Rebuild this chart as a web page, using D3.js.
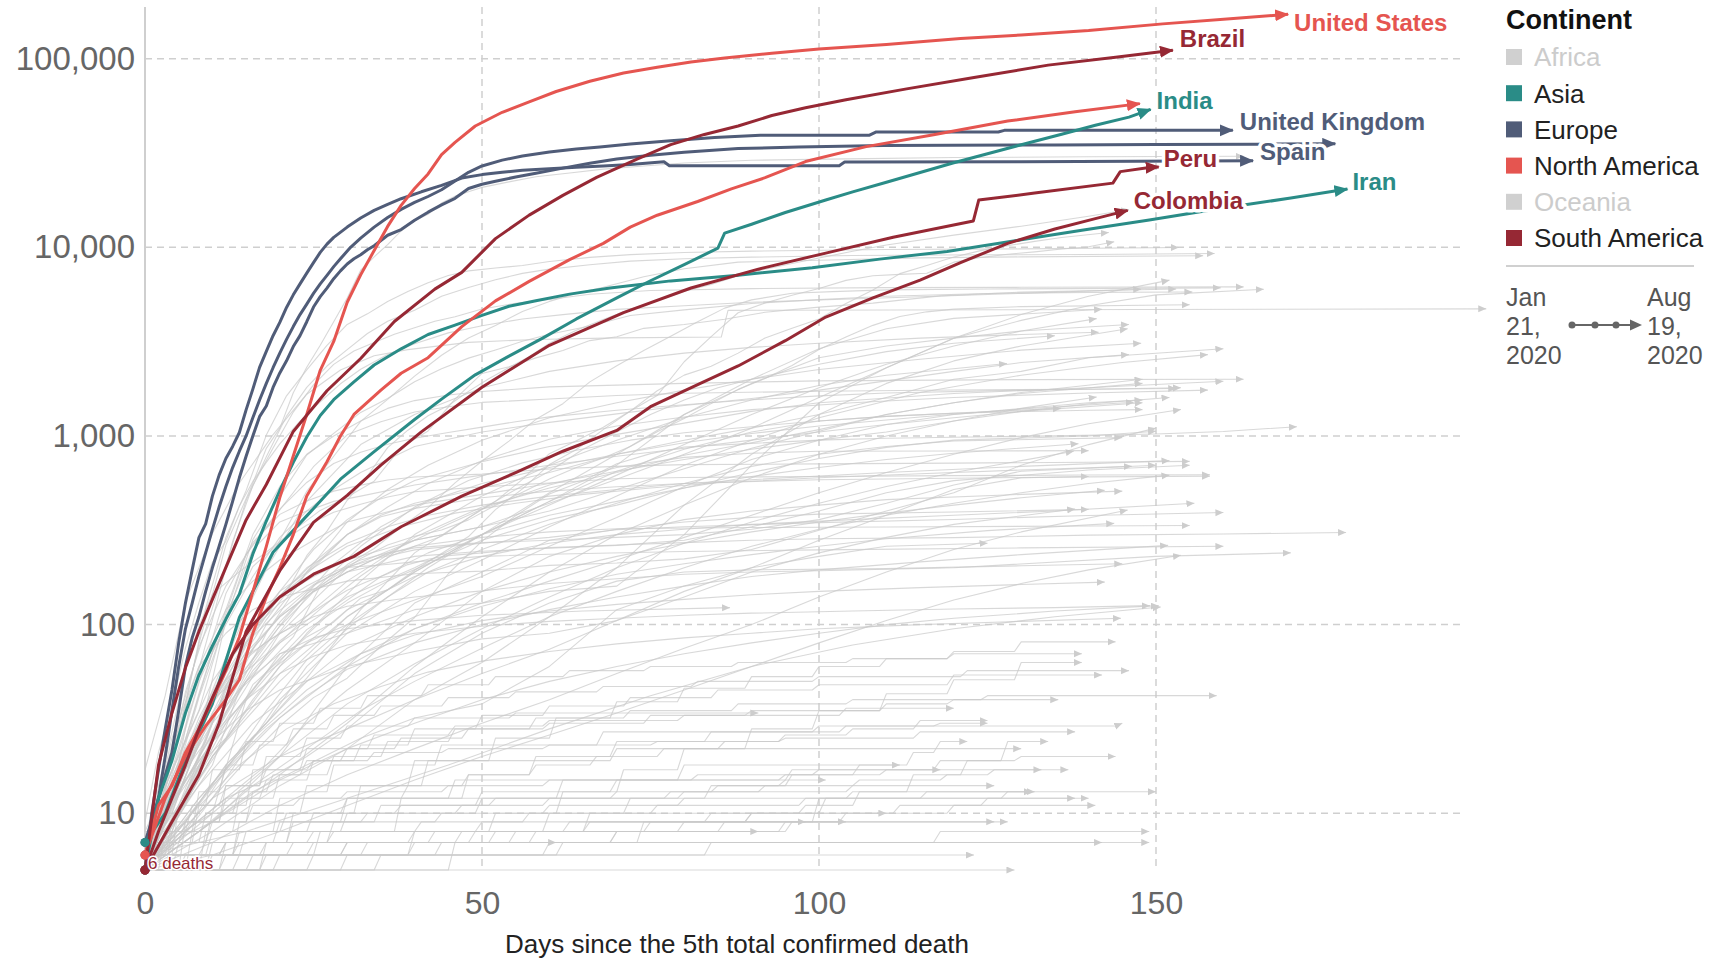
<!DOCTYPE html>
<html>
<head>
<meta charset="utf-8">
<script src="https://cdn.jsdelivr.net/npm/d3@7"></script>
<style>
  html, body { margin: 0; padding: 0; background: #fff; }
  svg { display: block; font-family: "Liberation Sans", Arial, sans-serif; }
</style>
</head>
<body>
<svg id="chart" width="1711" height="960"></svg>
<script>
// ---- data: [day since 5th death, total deaths] ----
var continents = ["Africa", "Asia", "Europe", "North America", "Oceania", "South America"];
var yTicks = [10, 100, 1000, 10000, 100000];
var xTicks = [0, 50, 100, 150];

var unitedStates = [[0,6],[2,11],[4,14],[6,21],[8,28],[10,40],[12,57],[14,86],[16,149],[18,260],[20,471],[22,783],[24,1299],[26,2229],[28,3170],[30,5116],[32,7159],[34,9618],[36,12911],[38,16686],[40,20506],[42,24500],[44,31000],[46,36000],[49,44000],[53,52000],[57,59000],[61,67000],[66,76000],[71,84000],[76,90000],[81,96000],[86,101000],[93,107000],[100,112500],[110,119000],[121,128000],[130,133500],[140,141000],[151,153000],[161,163000],[169.6,172000]];
var mexico = [[0,6],[3,12],[6,20],[9,29],[12,40],[14,51],[16,90],[18,140],[20,200],[22,300],[24,480],[27,730],[29,1000],[31,1300],[35,1750],[38,2150],[42,2600],[47,3800],[52,5200],[57,6600],[63,8600],[68,10500],[72,12800],[76,14800],[82,17500],[87,20400],[92,23400],[98,28500],[107,34200],[117,39500],[128,46700],[138,52300],[147.6,57800]];
var brazil = [[0,5],[2,18],[4,34],[6,59],[8,92],[10,136],[12,201],[15,359],[18,553],[22,1057],[27,1736],[32,2575],[37,4045],[43,6006],[47,7367],[52,11123],[57,14817],[62,18859],[67,23473],[73,29314],[78,35026],[83,39680],[88,43959],[93,49976],[98,54971],[104,60632],[113,69184],[123,79488],[134,92475],[144,101752],[152.5,111000]];
var peru = [[0,5],[4,9],[8,16],[11,30],[15,92],[20,193],[25,348],[30,484],[35,700],[41,1051],[50,1814],[60,3024],[71,4506],[81,6088],[91,7660],[101,9317],[111,11314],[122.9,13800],[123.7,17800],[132,19400],[143.6,21900],[144.7,25200],[149,26500],[150.4,26700]];
var colombia = [[0,5],[2,8],[4,12],[6,18],[8,28],[10,41],[13,70],[16,100],[20,140],[25,185],[31,230],[38,330],[47,480],[55,640],[62,830],[70,1070],[75,1430],[82,1870],[88,2350],[95,3200],[101,4270],[108,5400],[115,6700],[121,8300],[128,10500],[135,12500],[141,14200],[145.8,15700]];
var spain = [[0,5],[1,10],[2,17],[3,28],[4,45],[5,80],[6,130],[7,195],[8,289],[9,342],[10,480],[11,620],[12,760],[13,880],[14,1043],[15,1375],[16,1772],[17,2311],[18,2808],[19,3400],[20,4000],[21,4800],[22,5600],[23,6400],[24,7300],[25,8300],[26,9400],[27,10400],[28,11300],[30,12800],[32,14300],[34,15700],[36,16900],[38,18100],[41,19700],[44,21300],[47,23300],[50,24300],[53,25000],[56,25600],[60,26100],[64,26600],[68,27000],[72,27500],[77,28400],[77.8,27100],[103,27100],[103.8,28315],[130,28450],[164.4,28800]];
var italy = [[0,7],[2,12],[4,21],[5,35],[6,60],[7,85],[8,110],[9,150],[10,200],[11,260],[12,340],[13,450],[14,600],[15,780],[16,1000],[17,1266],[18,1441],[19,1809],[20,2158],[21,2503],[22,2978],[23,3405],[24,4032],[25,4825],[26,5476],[27,6077],[28,6820],[29,7503],[30,8165],[31,8700],[32,9134],[33,9700],[34,10200],[36,11591],[38,12428],[40,13915],[42,15362],[44,16800],[46,18200],[48,20500],[50,21600],[52,22400],[55,23600],[58,24700],[62,26300],[66,27900],[70,29400],[75,30800],[80,31900],[88,33400],[97,34000],[109.5,34700],[135,34900],[150,35100],[165,35250],[176.6,35400]];
var unitedKingdom = [[0,6],[1,8],[2,12],[3,20],[4,35],[5,60],[6,95],[7,130],[8,180],[9,240],[10,320],[11,420],[12,540],[13,680],[14,830],[15,1000],[16,1250],[17,1550],[18,1900],[19,2300],[20,2750],[21,3250],[22,3800],[23,4400],[24,5000],[25,5700],[26,6400],[27,7100],[28,7900],[29,8700],[30.5,10000],[32,11200],[34,12800],[36,14400],[38,15900],[40,17300],[42,18600],[44,20200],[46,22500],[48,25000],[50,27000],[53,29000],[56,30500],[60,32000],[64,33200],[67.5,34000],[72,35300],[78,36700],[84.5,38200],[91.3,39300],[107.5,39300],[108.5,40900],[126.6,40900],[127.5,41700],[161.4,41700]];
var india = [[0,7],[3,10],[6,19],[10,38],[14,109],[19,242],[24,377],[29,590],[34,826],[40,1223],[44,1568],[49,2109],[54,2649],[59,3303],[64,4172],[70,5394],[75,6649],[80,8102],[85,9900],[86,11903],[90,13254],[95,15301],[101,17834],[105,19693],[110,22123],[115,24915],[120,28084],[125,31358],[131,35747],[136,39795],[141,44386],[146,49036],[149.2,53866]];
var iran = [[0,5],[2,12],[4,19],[6,34],[8,54],[10,77],[12,107],[14,145],[16,237],[18,354],[20,514],[22,724],[24,988],[26,1284],[28,1556],[31,1934],[34,2378],[38,2898],[42,3452],[46,3872],[50,4357],[54,4869],[58,5209],[63,5650],[69,6091],[78,6640],[88,7119],[99,7797],[109,8659],[119,9507],[130,10958],[139,12305],[149,13979],[160,16147],[170,18264],[178.4,20376]];

// other countries (grey), flat lists: day, deaths, day, deaths, ...
var otherCountries = [
  [0,7, 4,19, 8,79, 12,264, 16,562, 18,860, 20,1100, 22,1696, 24,2314, 26,3024, 28,4032, 30,5387, 32,7560, 34,8911, 36,10328, 38,12210, 40,13832, 42,14986, 44,17167, 46,18681, 48,19718, 50,20796, 54,22245, 58,23660, 63,24760, 68,25987, 74,26991, 80,28022, 90,28940, 104,29436, 120,29920, 140,30200, 163,30410],
  [0,6, 3,13, 6,44, 9,94, 12,206, 15,455, 18,775, 21,1275, 24,1810, 27,2349, 30,2871, 33,3495, 36,4052, 40,4642, 44,5500, 48,6126, 52,6736, 56,7275, 60,7662, 66,8090, 72,8450, 80,8695, 90,8870, 105,9050, 125,9130, 140,9170, 158.7,9270],
  [0,5, 3,14, 6,37, 9,122, 12,289, 15,513, 18,1011, 21,1632, 24,2240, 27,3019, 30,3903, 33,4440, 36,5163, 39,5828, 42,6490, 45,7094, 48,7501, 52,7765, 56,8016, 60,8415, 66,8843, 72,9150, 80,9388, 90,9548, 110,9732, 130,9811, 153.4,9985],
  [0,5, 4,12, 8,24, 12,65, 16,139, 20,280, 24,509, 28,781, 32,1195, 36,1563, 40,2075, 44,2680, 48,3306, 52,3856, 56,4566, 60,5169, 64,5702, 68,6150, 74,6979, 80,7703, 88,8346, 100,8544, 115,8798, 130,8901, 157,9030],
  [0,5, 4,12, 7,43, 10,106, 13,276, 16,546, 19,864, 22,1339, 25,1867, 28,2396, 31,2823, 34,3134, 37,3459, 40,3751, 43,4054, 46,4289, 50,4711, 55,5056, 60,5288, 66,5643, 75,5903, 90,6042, 110,6113, 130,6138, 163,6170],
  [0,6, 4,10, 8,25, 12,105, 16,282, 20,477, 24,793, 28,1033, 32,1333, 36,1580, 40,1937, 44,2274, 48,2586, 52,2854, 56,3175, 60,3460, 66,3831, 72,4350, 80,4659, 90,5041, 100,5280, 110,5500, 125,5697, 140,5770, 155.4,5800],
  [0,9, 2,21, 4,37, 6,75, 8,131, 10,214, 12,277, 14,425, 16,574, 18,725, 20,908, 23,1198, 26,1518, 29,1890, 32,2259, 36,2706, 40,3081, 45,3520, 50,3841, 56,4171, 62,4397, 70,4692, 80,4905, 90,5115, 100,5260, 115,5474, 130,5700, 147.8,5996],
  [0,5, 6,11, 10,18, 14,45, 18,61, 22,86, 26,159, 30,208, 34,253, 38,329, 42,417, 46,564, 50,737, 54,939, 58,1225, 62,1483, 66,1935, 70,2356, 74,2839, 78,3382, 82,4035, 86,4762, 90,5266, 96,5709, 102,5822, 110,5951, 125,6014, 159.6,6097],
  [0,5, 2,14, 4,27, 6,58, 8,98, 10,145, 14,191, 18,242, 22,315, 26,403, 30,474, 34,576, 38,871, 42,1063, 46,1569, 50,2145, 54,2327, 58,2594, 62,2839, 66,3203, 70,3358, 74,3720, 80,3896, 86,4156, 92,4527, 100,4821, 108,5063, 118,5532, 130,5787, 153,6010],
  [0,5, 3,9, 6,17, 9,24, 12,47, 15,72, 18,106, 21,148, 24,232, 27,313, 30,456, 33,615, 36,867, 39,1073, 42,1280, 45,1451, 48,1723, 51,2009, 54,2305, 57,2631, 60,3099, 64,3633, 68,4142, 72,4693, 76,5215, 80,5859, 84,6358, 88,7081, 92,7660, 96,8206, 100,8777, 105,9536, 110,10296, 120,11614, 130,12942, 140,14606, 146,15872],
  [0,5, 4,11, 8,18, 12,25, 16,48, 20,65, 24,86, 28,103, 32,138, 36,153, 40,194, 44,238, 48,293, 52,407, 56,524, 60,705, 64,848, 68,1080, 72,1354, 76,1737, 80,2102, 84,2340, 88,2749, 92,3310, 96,3720, 100,4172, 104,5033, 108,5940, 112,7257, 116,8005, 120,8884, 124,9604, 128,10210, 132,10751, 136,11270, 143,11982],
  [0,5, 4,8, 8,18, 12,34, 16,57, 20,82, 24,105, 28,139, 32,181, 36,227, 40,260, 44,294, 48,368, 52,450, 56,589, 60,806, 64,944, 68,1113, 72,1356, 76,1637, 80,2475, 84,3362, 88,4502, 92,5068, 96,5575, 100,6051, 104,6682, 108,7069, 112,7186, 116,7290, 120,8347, 124,8838, 128,9187, 132,9457, 136,9792, 140,10077, 143.8,10700],
  [0,17, 3,42, 6,132, 10,304, 14,563, 19,1016, 24,1665, 29,2236, 34,2663, 39,2870, 48,3136, 58,3249, 70,3312, 85.5,3345, 86.5,4632, 199,4720],
  [0,6, 4,10, 8,24, 12,41, 16,66, 20,103, 24,146, 28,178, 32,224, 36,264, 40,294, 44,317, 48,359, 52,429, 56,503, 60,592, 64,680, 68,764, 72,879, 76,1052, 80,1237, 84,1484, 88,1766, 92,2017, 96,2365, 100,2872, 104,3343, 108,3858, 112,4302, 116,4551, 120,4705, 130,4850, 155,4960],
  [0,5, 10,24, 20,90, 30,200, 40,280, 50,330, 60,440, 70,590, 80,800, 90,1100, 100,1600, 110,2300, 120,3300, 130,4400, 140,5500, 152,6700],
  [0,5, 10,20, 20,50, 30,110, 40,190, 50,300, 60,500, 70,800, 80,1300, 90,2000, 100,2900, 110,3700, 120,4200, 142,4700],
  [0,5, 10,40, 20,80, 30,140, 40,200, 50,300, 60,450, 70,700, 80,1300, 90,1900, 100,2600, 110,3000, 120,3300, 130,3600, 146,3900],
  [0,6, 10,10, 15,40, 20,70, 30,90, 40,120, 50,130, 60,150, 70,160, 80,300, 90,700, 100,1500, 110,2300, 120,3300, 130,4100, 140,4900, 150,5600, 166,6000],
  [0,8, 5,20, 10,50, 15,90, 20,150, 25,200, 30,300, 35,380, 40,440, 50,530, 60,640, 70,800, 80,950, 90,1100, 100,1300, 110,1600, 120,2000, 130,2200, 140,2600, 160,2900],
  [0,5, 10,20, 20,55, 30,110, 40,190, 50,300, 60,430, 70,620, 80,900, 90,1300, 100,1800, 110,2400, 120,3000, 130,3600, 141.2,4190],
  [0,5, 10,12, 20,20, 30,28, 40,40, 50,63, 60,110, 70,200, 80,430, 90,800, 100,1300, 110,1900, 120,2500, 130,3000, 145.8,3700],
  [0,6, 8,30, 16,150, 24,450, 32,900, 40,1300, 50,1800, 60,2200, 70,2500, 80,2750, 90,2950, 100,3100, 115,3300, 130,3450, 141.5,3550],
  [0,5, 6,13, 12,34, 18,90, 24,190, 30,350, 36,520, 42,700, 50,950, 60,1250, 70,1500, 80,1750, 90,2000, 100,2250, 115,2550, 130,2850, 147.8,3100],
  [0,5, 10,12, 20,40, 30,90, 40,150, 50,220, 60,330, 70,480, 80,700, 90,950, 100,1250, 115,1700, 130,2100, 145,2450, 157.7,2700],
  [0,5, 8,15, 16,40, 24,90, 32,170, 40,300, 50,480, 60,700, 70,950, 80,1250, 90,1550, 100,1850, 110,2100, 127.9,2420],
  [0,6, 5,19, 10,71, 15,235, 20,406, 25,687, 30,1014, 35,1190, 40,1339, 45,1429, 50,1506, 60,1571, 70,1639, 80,1683, 100,1727, 120,1753, 140,1770, 153.7,1800],
  [0,5, 6,11, 12,40, 18,100, 24,190, 30,300, 36,420, 42,560, 50,740, 60,960, 70,1130, 80,1260, 90,1380, 105,1500, 120,1600, 140,1690, 157.7,1750],
  [0,5, 10,9, 20,16, 30,30, 40,60, 50,110, 60,190, 70,300, 80,430, 90,600, 100,800, 110,1000, 120,1200, 130,1400, 141.2,1610],
  [0,6, 8,20, 16,60, 24,140, 32,260, 40,420, 48,580, 56,720, 64,840, 72,950, 80,1040, 90,1120, 100,1200, 110,1270, 122,1330, 135.9,1400],
  [0,5, 10,14, 20,32, 30,60, 40,95, 50,130, 60,170, 70,220, 80,290, 90,380, 100,500, 110,640, 120,800, 130,980, 140,1160, 153.7,1380],
  [0,7, 7,17, 14,50, 21,110, 28,210, 35,330, 42,450, 50,560, 60,680, 70,800, 80,920, 90,1030, 100,1130, 115,1260, 130,1390, 146.7,1510],
  [0,6, 5,7, 10,12, 15,19, 20,29, 25,41, 30,52, 35,77, 40,109, 45,186, 50,277, 55,378, 60,492, 65,577, 70,713, 75,806, 80,874, 90,913, 100,950, 110,972, 120,984, 135,1001, 150,1025, 160,1056, 170.9,1120],
  [0,5, 7,14, 14,36, 21,70, 28,120, 35,180, 42,240, 50,300, 60,380, 70,450, 80,530, 90,610, 100,680, 110,750, 120,810, 138.5,910],
  [0,5, 10,10, 20,20, 30,38, 40,62, 50,95, 60,140, 70,200, 80,270, 90,350, 100,440, 110,540, 120,640, 130,740, 137.8,830],
  [0,6, 6,18, 12,55, 18,120, 24,200, 30,270, 36,330, 42,380, 50,430, 60,480, 70,520, 80,560, 95,600, 110,640, 130,690, 152,740],
  [0,5, 8,8, 16,14, 24,22, 32,35, 40,50, 50,75, 60,110, 70,150, 80,200, 90,260, 100,320, 110,380, 120,440, 130,500, 140,560, 152,620],
  [0,5, 5,14, 10,38, 15,80, 20,140, 25,200, 30,260, 38,330, 46,390, 55,440, 65,490, 75,530, 85,565, 100,600, 115,630, 130,660, 146.4,690],
  [0,6, 6,9, 12,18, 18,30, 24,50, 30,75, 40,110, 50,150, 60,190, 70,230, 80,270, 90,310, 100,350, 110,390, 120,430, 130,470, 142.4,515],
  [0,5, 10,20, 20,60, 30,120, 40,180, 50,230, 60,270, 70,300, 80,320, 90,340, 105,360, 120,380, 135,400, 155.7,440],
  [0,5, 10,7, 20,11, 30,16, 40,22, 50,30, 60,40, 70,55, 80,75, 90,100, 100,140, 110,190, 120,250, 130,310, 145.8,405],
  [0,5, 8,12, 16,25, 24,45, 32,70, 40,95, 50,125, 60,155, 70,185, 80,210, 90,235, 100,260, 110,285, 125,315, 143.8,344],
  [0,7, 3,13, 6,22, 9,35, 12,51, 15,66, 18,81, 21,94, 24,111, 27,131, 30,152, 33,169, 36,186, 39,208, 42,222, 45,232, 50,240, 55,250, 60,256, 70,264, 80,272, 90,280, 100,285, 120,289, 140,298, 160,302, 178.2,308],
  [0,5, 6,9, 12,17, 18,28, 24,42, 30,58, 40,80, 50,100, 60,120, 70,140, 80,160, 90,180, 100,195, 115,215, 130,235, 151.8,263],
  [0,5, 10,6, 20,8, 30,11, 40,15, 50,20, 60,26, 70,34, 80,45, 90,60, 100,80, 110,105, 120,135, 130,165, 140,195, 153.7,233],
  [0,6, 8,14, 16,30, 24,50, 32,70, 40,88, 50,105, 60,118, 70,128, 80,136, 90,144, 100,150, 115,157, 130,163, 142.4,168],
  [0,5, 10,9, 20,15, 30,22, 40,30, 50,40, 60,50, 70,60, 80,70, 90,80, 100,90, 110,100, 120,108, 135,118, 150.4,126],
  [0,5, 5,13, 10,26, 15,40, 20,55, 25,68, 30,78, 40,90, 50,98, 60,104, 70,108, 80,112, 90,115, 105,118, 120,121, 135,123, 149.1,126],
  [0,6, 15,8, 30,12, 45,18, 60,28, 75,42, 90,60, 105,78, 120,95, 135,110, 150.7,124],
  [0,5, 7,10, 14,18, 21,28, 28,38, 35,47, 42,56, 50,64, 60,72, 70,79, 80,85, 90,90, 100,95, 115,100, 130,104, 144.8,108],
  [0,6, 5,15, 10,30, 15,50, 20,70, 25,85, 30,95, 40,105, 50,112, 65,118, 86.8,123],
  [0,6, 4,14, 8,43, 12,120, 16,300, 20,540, 24,800, 28,1000, 32,1200, 36,1400, 40,1540, 45,1650, 50,1720, 60,1820, 80,1900, 100,1960, 130,1990, 163,2000],
  [0,6, 4,23, 8,76, 12,160, 16,266, 20,409, 24,567, 28,714, 32,820, 36,903, 40,973, 45,1043, 50,1114, 55,1190, 60,1263, 70,1369, 80,1465, 90,1555, 100,1631, 110,1689, 125,1735, 140,1770, 153,1784],
  [0,6, 4,16, 8,49, 12,146, 16,273, 20,384, 24,452, 28,510, 32,549, 36,584, 40,606, 50,628, 60,668, 70,690, 80,705, 100,711, 120,718, 140,726, 155,733],
  [0,6, 4,13, 8,41, 12,104, 16,203, 20,273, 24,336, 28,394, 32,434, 36,475, 40,506, 50,537, 60,563, 70,593, 80,602, 100,610, 120,616, 140,621, 158,622],
  [0,7, 4,17, 8,50, 12,100, 16,180, 20,290, 24,400, 28,520, 32,640, 36,750, 40,880, 50,1050, 60,1180, 70,1310, 80,1450, 90,1580, 100,1750, 110,1960, 120,2200, 130,2450, 146,2700],
  [0,5, 5,10, 10,30, 15,80, 20,150, 25,250, 30,360, 35,470, 40,580, 50,730, 60,880, 70,1020, 80,1170, 90,1350, 100,1500, 120,1680, 140,1800, 160,1950],
  [0,5, 5,10, 10,25, 15,50, 20,80, 25,120, 30,170, 40,290, 50,420, 60,530, 70,640, 80,790, 90,920, 100,1080, 110,1300, 120,1500, 130,1700, 148,2000],
  [0,5, 4,8, 8,20, 12,46, 16,75, 20,110, 25,150, 30,190, 35,230, 40,280, 45,340, 50,410, 55,520, 60,650, 65,850, 70,1050, 75,1300, 80,1550, 85,1800, 90,2000, 100,2400, 110,2800, 120,3100, 135,3400],
  [0,7, 4,17, 8,35, 12,110, 16,250, 20,350, 24,400, 28,450, 32,480, 40,550, 50,620, 60,700, 70,780, 80,860, 90,950, 100,1050, 110,1150, 120,1250, 130,1350, 140,1480, 152,1600],
  [0,6, 4,25, 8,60, 12,90, 16,120, 20,140, 30,170, 40,186, 50,192, 60,206, 70,212, 80,223, 90,250, 100,316, 110,400, 120,500, 130,700, 140,900, 150,1100],
  [0,6, 4,22, 8,60, 12,120, 16,170, 20,220, 25,280, 30,350, 40,430, 50,490, 60,560, 70,650, 80,750, 90,850, 100,950, 110,1050, 120,1200, 130,1350, 148,1500],
  [0,6, 4,14, 8,32, 12,60, 16,100, 20,140, 25,180, 30,220, 40,280, 50,330, 60,400, 70,520, 80,670, 90,860, 100,1060, 110,1300, 120,1500, 130,1680, 148,1900],
  [0,5, 6,15, 12,30, 18,55, 24,80, 30,100, 40,135, 50,180, 60,260, 70,370, 80,540, 90,750, 100,950, 110,1150, 120,1300, 140,1500, 148,1550],
  [0,5, 6,8, 12,17, 18,35, 24,65, 30,100, 36,140, 42,190, 50,250, 60,340, 70,440, 80,560, 90,690, 100,800, 110,880, 120,940, 145,980],
  [0,5, 6,9, 12,18, 18,30, 24,60, 30,95, 36,140, 42,200, 50,300, 60,450, 70,650, 80,850, 90,1050, 100,1200, 110,1270, 120,1320, 140,1370, 148,1380],
  [0,5, 4,12, 8,30, 12,60, 16,95, 20,130, 24,160, 28,190, 32,220, 36,240, 40,255, 50,272, 60,280, 70,290, 80,300, 90,320, 100,360, 110,440, 120,550, 130,650, 150,700],
  [0,6, 5,13, 10,34, 15,77, 20,142, 25,213, 30,300, 35,373, 40,413, 50,470, 60,510, 70,538, 80,560, 100,586, 120,597, 140,607, 158,612],
  [0,6, 5,11, 10,31, 15,67, 20,112, 25,161, 30,202, 35,227, 40,249, 50,270, 60,290, 70,318, 80,330, 100,347, 120,361, 140,379, 160,393],
  [0,6, 5,16, 10,39, 15,71, 20,110, 25,150, 30,190, 40,230, 50,245, 60,254, 70,263, 80,280, 90,330, 100,400, 110,500, 120,580, 140,660, 155,700],
  [0,6, 5,13, 10,24, 15,35, 20,45, 30,60, 40,72, 50,84, 60,90, 70,105, 80,140, 90,190, 100,240, 110,290, 120,340, 138,410],
  [0,5, 10,8, 20,14, 30,22, 40,40, 50,55, 60,74, 70,105, 80,150, 90,200, 100,280, 110,380, 120,520, 130,600, 140,610],
  [0,5, 8,8, 16,13, 24,18, 32,25, 40,32, 50,38, 60,60, 70,120, 80,160, 90,200, 100,230, 110,260, 125,270],
  [0,5, 8,12, 16,25, 24,52, 32,120, 40,240, 50,410, 60,550, 70,680, 80,770, 90,810, 100,830, 120,832, 140,836],
  [0,6, 10,9, 20,20, 30,60, 40,130, 50,190, 60,280, 70,320, 80,350, 90,370, 100,385, 120,395, 140,408],
  [0,5, 6,12, 12,30, 18,56, 24,94, 30,130, 36,170, 42,210, 50,280, 60,360, 70,430, 80,530, 90,640, 100,760, 110,870, 120,950, 140,1000, 150,1060],
  [0,5, 5,15, 10,38, 15,68, 20,90, 25,110, 30,125, 40,140, 50,151, 60,165, 70,175, 80,185, 90,190, 100,193, 120,200, 150,230, 170,240],
  [0,5, 5,13, 10,34, 15,59, 20,98, 25,149, 30,190, 35,230, 40,260, 50,290, 60,310, 70,322, 90,327, 110,329, 140,333, 155,335],
  [0,6, 5,14, 10,39, 15,80, 20,119, 25,163, 30,201, 35,207, 40,215, 50,230, 60,236, 80,244, 100,249, 130,255, 160,260],
  [0,5, 6,8, 12,12, 18,15, 24,20, 30,28, 40,55, 50,90, 60,130, 70,170, 80,190, 90,195, 110,198, 130,205, 145,210],
  [0,5, 6,8, 12,12, 18,18, 24,30, 30,45, 40,80, 50,150, 60,230, 70,300, 80,360, 90,400, 100,430, 110,460, 130,490, 145,510]
];

// small counts (grey): day a new total was reached, total, ... last pair = end of series
var smallCountries = [
  [0,5, 129,5],
  [0,5, 35,6, 123,6],
  [0,5, 20,6, 62,7, 142,7],
  [0,6, 44,7, 70,8, 96,9, 126,9],
  [0,5, 12,6, 30,7, 58,8, 75,9, 104,10, 120,11, 141,11],
  [0,6, 18,7, 40,8, 66,9, 90,10, 112,11, 125,12, 138,12],
  [0,5, 6,6, 14,7, 25,8, 41,9, 57,10, 76,11, 98,12, 116,13, 132,13],
  [0,6, 9,7, 20,9, 33,10, 47,11, 60,12, 78,13, 92,14, 106,15, 119,16, 126,17, 133,17],
  [0,5, 4,7, 10,9, 16,11, 23,12, 30,13, 45,14, 60,15, 82,16, 100,17, 118,19, 130,20, 144,20],
  [0,6, 30,7, 55,8, 80,9, 98,9],
  [0,5, 8,6, 14,8, 25,10, 38,11, 52,12, 70,13, 85,14, 95,15, 101,15],
  [0,5, 16,6, 33,7, 47,8, 60,10, 72,12, 84,14, 96,16, 106,18, 114,21, 118,24, 122,24],
  [0,6, 22,7, 43,8, 63,9, 84,10, 98,11, 106,13, 114,16, 122,19, 128,24, 134,24],
  [0,5, 3,8, 7,11, 12,14, 18,17, 25,19, 34,21, 45,22, 60,23, 76,24, 95,25, 115,27, 138,27],
  [0,5, 5,7, 9,10, 14,13, 19,16, 24,19, 30,22, 38,25, 48,28, 60,30, 75,33, 90,35, 110,38, 120,40, 135.5,40],
  [0,6, 10,8, 21,10, 30,12, 39,14, 48,16, 58,18, 67,20, 77,22, 86,24, 95,26, 105,28, 115,31, 125,31],
  [0,5, 7,8, 14,12, 20,16, 28,20, 36,24, 46,28, 58,32, 72,35, 88,38, 105,40, 125,42, 159,42],
  [0,7, 6,9, 12,12, 18,15, 25,19, 32,23, 40,28, 50,33, 60,37, 72,41, 85,45, 100,48, 120,54, 142,54],
  [0,5, 4,8, 8,13, 12,18, 17,23, 22,28, 28,33, 35,37, 45,41, 55,44, 68,47, 82,50, 100,53, 122,57, 146,57],
  [0,5, 25,6, 40,8, 52,10, 62,13, 71,17, 80,22, 90,28, 100,35, 110,43, 120,51, 130,63, 139,63],
  [0,6, 5,11, 10,17, 15,24, 20,30, 26,36, 33,42, 42,48, 52,53, 63,57, 75,60, 88,63, 105,66, 120,70, 139,70],
  [0,5, 12,7, 22,10, 32,14, 42,19, 52,25, 61,32, 70,39, 80,46, 90,53, 100,60, 110,66, 120,72, 130,81, 144,81],
  [0,5, 2,6, 12,7, 49,8, 91,8],
  [0,5, 10,6, 25,7, 61,7],
  [0,5, 6,9, 12,14, 18,20, 24,25, 30,29, 40,32, 55,34, 91,34],
  [0,5, 10,7, 22,9, 35,11, 50,13, 70,15, 95,16, 110,17, 118,17],
  [0,6, 15,8, 30,10, 50,12, 80,13, 105,14, 126,14],
  [0,5, 18,6, 40,7, 70,8, 95,9, 104,9],
  [0,6, 12,7, 28,9, 44,10, 60,11, 80,12, 105,13, 131.6,13],
  [0,5, 14,6, 26,8, 38,12, 48,16, 58,20, 70,24, 84,27, 100,29, 118,30, 125,30],
  [0,7, 8,11, 16,17, 24,22, 34,26, 46,29, 60,31, 80,33, 104,36, 120,36],
  [0,6, 60,7, 118,8, 149,8],
  [0,7, 28,8, 66,10, 101,12, 140,12],
  [0,5, 9,8, 50,9, 90,10, 110,10],
  [0,8, 20,12, 46,15, 80,18, 112,18],
  [0,6, 14,9, 30,12, 62,15, 96,17, 137,17],
  [0,5, 18,7, 52,8, 86,9, 128,9],
  [0,7, 10,10, 24,14, 40,19, 70,22, 130,22],
  [0,5, 30,6, 84,7, 149,7],
  [0,6, 4,9, 16,13, 28,18, 44,23, 68,27, 104,29, 145,30],
  [0,5, 46,7, 74,9, 100,12, 128,13, 150,13]
];

var highlighted = [
  { name: "Spain", continent: "Europe", values: spain },
  { name: "Italy", continent: "Europe", values: italy },
  { name: "United Kingdom", continent: "Europe", values: unitedKingdom },
  { name: "Iran", continent: "Asia", values: iran },
  { name: "India", continent: "Asia", values: india },
  { name: "Mexico", continent: "North America", values: mexico },
  { name: "United States", continent: "North America", values: unitedStates },
  { name: "Colombia", continent: "South America", values: colombia },
  { name: "Peru", continent: "South America", values: peru },
  { name: "Brazil", continent: "South America", values: brazil }
];

// ---- styles ----
var color = {
  "Africa": "#d0d0d0", "Asia": "#2a8c87", "Europe": "#505c78",
  "North America": "#e55550", "Oceania": "#d0d0d0", "South America": "#962834"
};
var labelOffset = {
  "United States": [6, 17], "Brazil": [7, -3], "India": [6, 0], "United Kingdom": [7, 0],
  "Spain": [7, -1], "Peru": [5, 0], "Iran": [5, 1], "Colombia": [6, -1]
};

function pairs(a) {
  var out = [];
  for (var i = 0; i < a.length; i += 2) out.push([a[i], a[i + 1]]);
  return out;
}
// a new total is drawn as a one-day rise from the previous total
function steps(a) {
  var p = pairs(a), out = [p[0]];
  for (var i = 1; i < p.length; i++) {
    var prev = out[out.length - 1];
    if (p[i][1] !== prev[1] && p[i][0] - 1 > prev[0]) out.push([p[i][0] - 1, prev[1]]);
    out.push(p[i]);
  }
  return out;
}

var svg = d3.select("#chart");
svg.append("rect").attr("width", 1711).attr("height", 960).attr("fill", "#fff");

var x = d3.scaleLinear().domain([0, 195.4]).range([145, 1462]);
var y = d3.scaleLog().domain([5, 188000]).range([870, 7]);

// arrow markers
var defs = svg.append("defs");
defs.append("marker").attr("id", "arrow-grey")
  .attr("markerUnits", "userSpaceOnUse").attr("markerWidth", 10).attr("markerHeight", 8)
  .attr("refX", 8).attr("refY", 3.5).attr("orient", "auto")
  .append("path").attr("d", "M0,0 L8,3.5 L0,7 z").attr("fill", "#cdcdcd");
continents.forEach(function(c) {
  defs.append("marker").attr("id", "arrow-" + c.replace(/ /g, ""))
    .attr("markerUnits", "userSpaceOnUse").attr("markerWidth", 16).attr("markerHeight", 14)
    .attr("refX", 13).attr("refY", 6).attr("orient", "auto")
    .append("path").attr("d", "M0,0 L14,6 L0,12 z").attr("fill", color[c]);
});

// grid
svg.append("g").selectAll("line").data(yTicks).join("line")
  .attr("x1", x(0)).attr("x2", x.range()[1])
  .attr("y1", function(d) { return y(d); }).attr("y2", function(d) { return y(d); })
  .attr("stroke", "#cfcfcf").attr("stroke-width", 1.5).attr("stroke-dasharray", "7,5");
svg.append("g").selectAll("line").data(xTicks.slice(1)).join("line")
  .attr("x1", function(d) { return x(d); }).attr("x2", function(d) { return x(d); })
  .attr("y1", 7).attr("y2", 870)
  .attr("stroke", "#cfcfcf").attr("stroke-width", 1.5).attr("stroke-dasharray", "7,5");
svg.append("line").attr("x1", x(0)).attr("x2", x(0)).attr("y1", 7).attr("y2", 870)
  .attr("stroke", "#cfcfcf").attr("stroke-width", 2);

// axes
var yAxis = svg.append("g").attr("transform", "translate(" + x(0) + ",0)")
  .call(d3.axisLeft(y).tickValues(yTicks).tickFormat(d3.format(",")).tickSize(0).tickPadding(10));
yAxis.select(".domain").remove();
yAxis.selectAll("text").style("font-size", "33px").style("font-family", "'Liberation Sans', Arial, sans-serif").attr("fill", "#666");

var xAxis = svg.append("g").attr("transform", "translate(0,870)")
  .call(d3.axisBottom(x).tickValues(xTicks).tickFormat(d3.format("d")).tickSize(0).tickPadding(21));
xAxis.select(".domain").remove();
xAxis.selectAll("text").style("font-size", "32px").style("font-family", "'Liberation Sans', Arial, sans-serif").attr("fill", "#666");

svg.append("text").attr("x", 737).attr("y", 953).attr("text-anchor", "middle")
  .attr("font-size", 26).attr("fill", "#222").text("Days since the 5th total confirmed death");

var line = d3.line().x(function(d) { return x(d[0]); }).y(function(d) { return y(d[1]); });

// grey countries
var grey = svg.append("g").attr("fill", "none").attr("stroke", "#c9c9c9")
  .attr("stroke-width", 1.1).attr("stroke-opacity", 0.72).attr("stroke-linejoin", "round");
grey.selectAll("path.small").data(smallCountries).join("path").attr("class", "small")
  .attr("d", function(d) { return line(steps(d)); })
  .attr("marker-end", "url(#arrow-grey)");
grey.selectAll("path.other").data(otherCountries).join("path").attr("class", "other")
  .attr("d", function(d) { return line(pairs(d)); })
  .attr("marker-end", "url(#arrow-grey)");

// highlighted countries
var hl = svg.append("g").attr("fill", "none").attr("stroke-width", 3).attr("stroke-linejoin", "round");
hl.selectAll("path").data(highlighted).join("path")
  .attr("stroke", function(d) { return color[d.continent]; })
  .attr("d", function(d) { return line(d.values); })
  .attr("marker-end", function(d) { return "url(#arrow-" + d.continent.replace(/ /g, "") + ")"; });

svg.append("g").selectAll("circle").data(highlighted).join("circle")
  .attr("cx", function(d) { return x(d.values[0][0]); })
  .attr("cy", function(d) { return y(d.values[0][1]); })
  .attr("r", 4.5)
  .attr("fill", function(d) { return color[d.continent]; });

svg.append("text").attr("x", 148).attr("y", 869).attr("font-size", 17)
  .attr("fill", "#962834").attr("stroke", "#fff").attr("stroke-width", 3)
  .attr("paint-order", "stroke").text("6 deaths");

// end labels
var labelled = highlighted.filter(function(d) { return labelOffset[d.name]; });
svg.append("g").selectAll("text").data(labelled).join("text")
  .attr("x", function(d) { var p = d.values[d.values.length - 1]; return x(p[0]) + labelOffset[d.name][0]; })
  .attr("y", function(d) { var p = d.values[d.values.length - 1]; return y(p[1]) + labelOffset[d.name][1]; })
  .attr("font-size", 24).attr("font-weight", "bold")
  .attr("fill", function(d) { return color[d.continent]; })
  .attr("stroke", "#fff").attr("stroke-width", 7).attr("stroke-linejoin", "round")
  .attr("paint-order", "stroke")
  .text(function(d) { return d.name; });

// legend
var lg = svg.append("g");
lg.append("text").attr("x", 1506).attr("y", 29).attr("font-size", 27).attr("font-weight", "bold")
  .attr("fill", "#111").text("Continent");
var rows = lg.selectAll("g.row").data(continents).join("g").attr("class", "row")
  .attr("transform", function(d, i) { return "translate(1506," + (57 + i * 36.2) + ")"; });
rows.append("rect").attr("x", 0).attr("y", -8).attr("width", 16).attr("height", 16)
  .attr("fill", function(d) { return color[d]; });
rows.append("text").attr("x", 28).attr("y", 0).attr("dy", "0.36em").attr("font-size", 26)
  .attr("fill", function(d) { return color[d] === "#d0d0d0" ? "#cccccc" : "#222"; })
  .text(function(d) { return d; });
lg.append("line").attr("x1", 1506).attr("x2", 1694).attr("y1", 266).attr("y2", 266)
  .attr("stroke", "#d0d0d0").attr("stroke-width", 2);

var dateStart = ["Jan", "21,", "2020"], dateEnd = ["Aug", "19,", "2020"];
[[1506, dateStart], [1647, dateEnd]].forEach(function(p) {
  var t = lg.append("text").attr("x", p[0]).attr("y", 306).attr("font-size", 25).attr("fill", "#555");
  p[1].forEach(function(s, i) {
    t.append("tspan").attr("x", p[0]).attr("dy", i === 0 ? 0 : 29).text(s);
  });
});
lg.append("line").attr("x1", 1572).attr("x2", 1632).attr("y1", 325).attr("y2", 325)
  .attr("stroke", "#666").attr("stroke-width", 2);
lg.selectAll("circle").data([1572, 1595, 1616]).join("circle")
  .attr("cx", function(d) { return d; }).attr("cy", 325).attr("r", 3.5).attr("fill", "#666");
lg.append("path").attr("d", "M1630,319.5 L1642,325 L1630,330.5 z").attr("fill", "#666");
</script>
</body>
</html>
